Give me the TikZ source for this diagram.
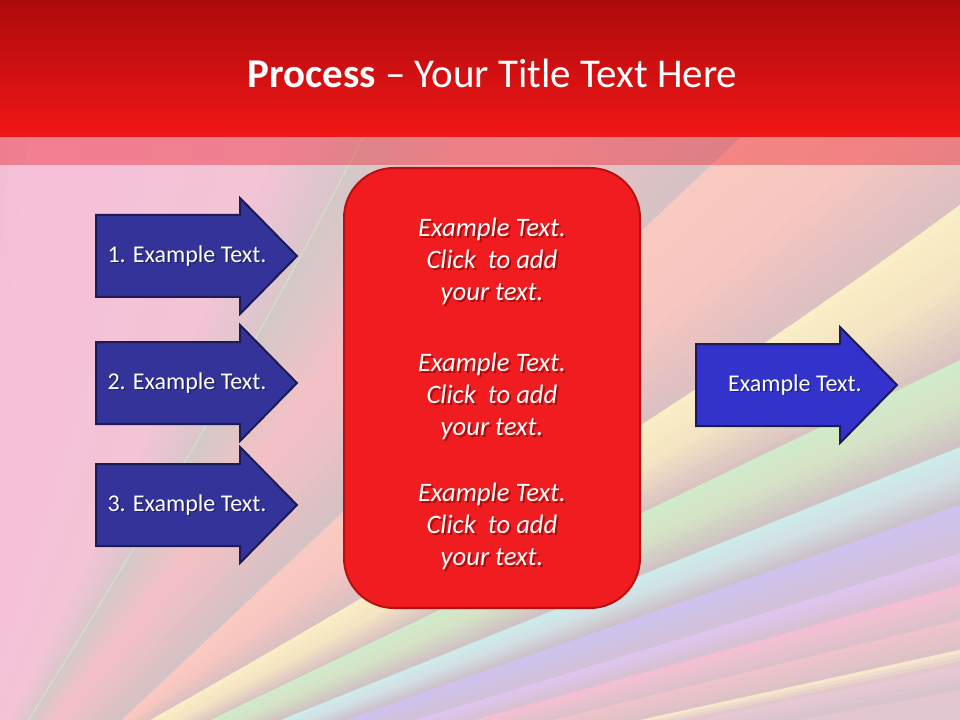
\documentclass[tikz,border=0pt]{standalone}
\usepackage{fontspec}
\setmainfont{Carlito}
\usetikzlibrary{calc}
% background colours
\definecolor{pk1}{HTML}{E7BACD}\definecolor{pk2}{HTML}{F7C0D9}\definecolor{pk2b}{HTML}{F3C3D6}\definecolor{pk3}{HTML}{DCC6CC}
\definecolor{sh1}{HTML}{D6C8C9}\definecolor{sh2}{HTML}{F3C1C5}\definecolor{sh3}{HTML}{D6C1C4}
\definecolor{sa1}{HTML}{F9CAC2}\definecolor{sa2}{HTML}{F7C6C0}\definecolor{sa3}{HTML}{DDC0C2}
\definecolor{ye1}{HTML}{FAEEC6}\definecolor{ye2}{HTML}{F5E5C3}\definecolor{ye3}{HTML}{DAC4C2}
\definecolor{gr1}{HTML}{D0EBC9}\definecolor{gr2}{HTML}{D5E4C7}\definecolor{gr3}{HTML}{D0C3C3}
\definecolor{cy1}{HTML}{CDEBEA}\definecolor{cy2}{HTML}{D2E2E4}\definecolor{cy3}{HTML}{CDC2CB}
\definecolor{pu1}{HTML}{CEC2EE}\definecolor{pu2}{HTML}{D2C1D8}
\definecolor{la1}{HTML}{DEC5EE}\definecolor{la2}{HTML}{D8C1D3}
\definecolor{pi1}{HTML}{F4BFD3}\definecolor{pi2}{HTML}{DDC1CA}
\definecolor{ro1}{HTML}{EEC3CB}\definecolor{ro2}{HTML}{DCC2C6}
\definecolor{pa1}{HTML}{F6E6CC}\definecolor{pa2}{HTML}{E2C8CB}
\definecolor{bt1}{HTML}{E6C8D4}\definecolor{bt2}{HTML}{D9C4CD}
\definecolor{bb1}{HTML}{E2C6D0}\definecolor{bb2}{HTML}{D6C2CC}
\definecolor{rayline}{HTML}{D3DDC9}
% foreground colours
\definecolor{titletop}{HTML}{AD0A0B}\definecolor{titlebot}{HTML}{F21617}
\definecolor{overlayred}{HTML}{EB1E28}
\definecolor{boxfill}{HTML}{F01C1F}\definecolor{boxline}{HTML}{B80F12}
\definecolor{arrowL}{HTML}{333399}\definecolor{arrowR}{HTML}{3333CC}
\definecolor{arrowline}{HTML}{1B1B55}
\definecolor{txtshadow}{HTML}{6E0000}

\newcommand\edgedef[5]{%
  \coordinate (#1a) at #2; \coordinate (#1b) at #3;
  \coordinate (#1c) at #4; \coordinate (#1d) at #5;}
\newcommand\midedge[4]{%
  \coordinate (#1a) at ($(#2a)!#4!(#3a)$);
  \coordinate (#1b) at ($(#2b)!#4!(#3b)$);
  \coordinate (#1c) at ($(#2c)!#4!(#3c)$);
  \coordinate (#1d) at ($(#2d)!#4!(#3d)$);}
\newcommand\bandfill[5]{%
  \pgfmathtruncatemacro\bnm{#5-1}%
  \foreach \k in {0,...,\bnm}{%
    \pgfmathsetmacro\bt{\k/#5}%
    \pgfmathtruncatemacro\bp{100-100*\k/(#5-1)}%
    \colorlet{bandc}{#3!\bp!#4}%
    \fill[bandc] ($(#1a)!\bt!(#2a)$) .. controls ($(#1b)!\bt!(#2b)$) and ($(#1c)!\bt!(#2c)$) .. ($(#1d)!\bt!(#2d)$)
      -- ++(0,-300) -- (1200,-300) -- (1200,1200) -- (-300,1200) -- cycle;
  }}
\newcommand\rarrow[3]{%
  \filldraw[arrowshape, fill=#3] (#1,#2-41) -- (#1+144,#2-41) -- (#1+144,#2-58) -- (#1+201,#2)
    -- (#1+144,#2+58) -- (#1+144,#2+41) -- (#1,#2+41) -- cycle;}

\tikzset{
  arrowshape/.style={draw=arrowline, line width=1.5pt, line join=miter},
  atext/.style={text=white, font=\fontsize{18}{21.6}\selectfont, inner sep=0pt},
  ashad/.style={text=black, opacity=0.35, font=\fontsize{18}{21.6}\selectfont, inner sep=0pt},
  btext/.style={text=white, align=center, font=\fontsize{20}{24}\selectfont\itshape, inner sep=0pt},
  bshad/.style={text=txtshadow, opacity=0.55, align=center, font=\fontsize{20}{24}\selectfont\itshape, inner sep=0pt},
  redbox/.style={draw=boxline, line width=1.5pt, fill=boxfill, rounded corners=37.5pt,
     minimum width=222pt, minimum height=330pt, inner sep=0pt},
}

\begin{document}
\begin{tikzpicture}[x=0.75pt, y=-0.75pt]
\useasboundingbox (0,0) rectangle (960,720);
\begin{scope}
\clip (0,0) rectangle (960,720);
% ---- ray edges
\edgedef{E0}{(-60,860)}{(-60,600)}{(-60,300)}{(-60,0)}
\edgedef{L1}{(-60,860)}{(100,610)}{(290,300)}{(430,0)}
\edgedef{L2}{(-150,976)}{(233,615)}{(617,254)}{(1000,-107)}
\edgedef{Y}{(-150,885)}{(230,680)}{(620,460)}{(1000,175)}
\edgedef{G}{(-150,893)}{(233,709)}{(617,525)}{(1000,341)}
\edgedef{C}{(-150,893)}{(233,739)}{(617,585)}{(1000,431)}
\edgedef{P}{(-150,893)}{(233,759)}{(617,625)}{(1000,491)}
\edgedef{K}{(-150,893)}{(233,776)}{(617,658)}{(1000,541)}
\edgedef{Q}{(-150,893)}{(233,787)}{(617,680)}{(1000,574)}
\edgedef{R}{(-150,893)}{(233,799)}{(617,704)}{(1000,610)}
\edgedef{S}{(-150,893)}{(233,809)}{(617,725)}{(1000,641)}
\edgedef{T}{(-150,893)}{(233,814)}{(617,736)}{(1000,657)}
\edgedef{U}{(-150,893)}{(233,823)}{(617,753)}{(1000,683)}
\edgedef{Z}{(-150,893)}{(233,900)}{(617,900)}{(1000,900)}
\midedge{M0}{E0}{L1}{0.25}
\midedge{Mp}{E0}{L1}{0.78}
\midedge{M1}{L1}{L2}{0.35}
\midedge{M2}{L2}{Y}{0.5}
\midedge{M3}{Y}{G}{0.45}
\midedge{M4}{G}{C}{0.4}
\midedge{M5}{C}{P}{0.4}
% ---- bands
\bandfill{E0}{M0}{pk1}{pk2}{6}
\bandfill{M0}{Mp}{pk2}{pk2b}{6}
\bandfill{Mp}{L1}{pk2b}{pk3}{8}
\bandfill{L1}{M1}{sh1}{sh2}{8}
\bandfill{M1}{L2}{sh2}{sh3}{8}
\bandfill{L2}{M2}{sa1}{sa2}{6}
\bandfill{M2}{Y}{sa2}{sa3}{10}
\bandfill{Y}{M3}{ye1}{ye2}{6}
\bandfill{M3}{G}{ye2}{ye3}{10}
\bandfill{G}{M4}{gr1}{gr2}{5}
\bandfill{M4}{C}{gr2}{gr3}{8}
\bandfill{C}{M5}{cy1}{cy2}{5}
\bandfill{M5}{P}{cy2}{cy3}{8}
\bandfill{P}{K}{pu1}{pu2}{8}
\bandfill{K}{Q}{la1}{la2}{6}
\bandfill{Q}{R}{pi1}{pi2}{6}
\bandfill{R}{S}{ro1}{ro2}{6}
\bandfill{S}{T}{pa1}{pa2}{4}
\bandfill{T}{U}{bt1}{bt2}{4}
\bandfill{U}{Z}{bb1}{bb2}{6}
\draw[rayline, line width=1.1pt] (L1a) .. controls (L1b) and (L1c) .. (L1d);
% ---- title bar and overlay strip
\shade[top color=titletop, bottom color=titlebot] (0,0) rectangle (960,137);
\fill[overlayred, opacity=0.4] (0,137) rectangle (960,165);
\end{scope}

\node[anchor=base, text=white, font=\fontsize{30.7}{36}\selectfont, inner sep=0pt] (title) at (492.5,88)
  {\textbf{Process} – Your Title Text Here};

% ---- central rounded box
\node[redbox] (box) at (492,388) {};

% ---- arrows
\rarrow{96}{256}{arrowL}
\rarrow{96}{383}{arrowL}
\rarrow{96}{505}{arrowL}
\rarrow{696}{385}{arrowR}

\node[ashad] (a1s) at (188.5,257.5) {1. Example Text.};
\node[atext] (a1) at (187,256) {1. Example Text.};
\node[ashad] (a2s) at (188.5,384.5) {2. Example Text.};
\node[atext] (a2) at (187,383) {2. Example Text.};
\node[ashad] (a3s) at (188.5,506.5) {3. Example Text.};
\node[atext] (a3) at (187,505) {3. Example Text.};
\node[ashad] (a4s) at (796.5,386.5) {Example Text.};
\node[atext] (a4) at (795,385) {Example Text.};

% ---- box texts
\node[bshad] (b1s) at (494,263) {Example Text.\\Click\ \ to add\\your text.};
\node[btext] (b1) at (492,261) {Example Text.\\Click\ \ to add\\your text.};
\node[bshad] (b2s) at (494,398) {Example Text.\\Click\ \ to add\\your text.};
\node[btext] (b2) at (492,396) {Example Text.\\Click\ \ to add\\your text.};
\node[bshad] (b3s) at (494,528) {Example Text.\\Click\ \ to add\\your text.};
\node[btext] (b3) at (492,526) {Example Text.\\Click\ \ to add\\your text.};
\end{tikzpicture}
\end{document}
